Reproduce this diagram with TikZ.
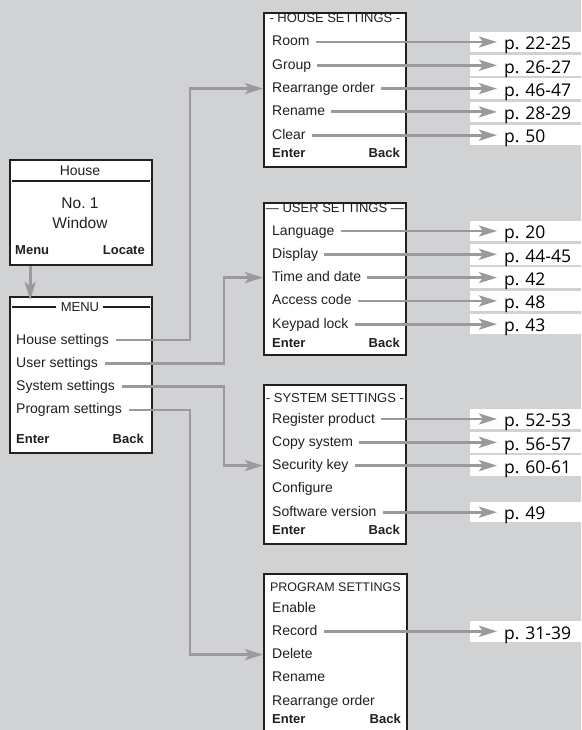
\documentclass[tikz,border=0pt]{standalone}
\usepackage{fontspec}
\setmainfont{Liberation Sans}
\newfontfamily\pagefont{Open Sans}
\usetikzlibrary{positioning}
\usetikzlibrary{arrows.meta}
\frenchspacing

\definecolor{bggray}{HTML}{D1D2D4}
\definecolor{linkgray}{HTML}{9A9A9C}
\definecolor{ink}{HTML}{231F20}

\begin{document}
\begin{tikzpicture}[
        x=1pt, y=-1pt,
        node distance=8.9pt,
        screen/.style={rectangle, draw=ink, line width=1.8pt, fill=white, anchor=north west, minimum width=142pt, inner sep=0pt},
        item/.style={anchor=west, inner sep=0pt, text height=11pt, text depth=3pt, text=ink, font=\fontsize{14}{16}\selectfont},
        next/.style={below=of #1.south west, anchor=north west},
        big/.style={inner sep=0pt, text height=11.5pt, text depth=0pt, text=ink, font=\fontsize{15.5}{18}\selectfont},
        title/.style={inner sep=1pt, text height=9.5pt, text depth=0pt, text=ink, font=\fontsize{13}{15}\selectfont},
        key/.style={inner sep=0pt, text height=9.4pt, text depth=0pt, text=ink, font=\fontsize{13}{15}\selectfont\bfseries},
        page/.style={fill=white, anchor=west, minimum height=20.5pt, inner ysep=0pt, inner xsep=34pt, text width=90pt, align=left, text height=15.5pt, text depth=0pt, font=\pagefont\fontsize{17.5}{20}\selectfont},
        rule/.style={draw=ink, line width=1.1pt},
        link/.style={draw=linkgray, line width=2.8pt, -{Stealth[length=18pt, width=11pt, inset=4pt]}}
    ]
        \useasboundingbox (0,0) rectangle (581,730);
        \fill[bggray] (0,0) rectangle (581,730);

        % start screen
        \node[screen, minimum height=105pt] (homebox) at (9,159) {};
        \node[title, font=\fontsize{14}{16}\selectfont] (hometitle) at (80,171) {House};
        \draw[rule] ([xshift=3pt]homebox.west |- 0,181) -- ([xshift=-3pt]homebox.east |- 0,181);
        \node[big] (homeno) at (80,203) {No. 1};
        \node[big] (homewin) at (80,223) {Window};
        \node[key, anchor=west] (menukey) at (15,250) {Menu};
        \node[key, anchor=east] (locatekey) at (145,250) {Locate};

        % menu
        \node[screen, minimum height=156pt] (menubox) at (9,296) {};
        \node[title] (menutitle) at (80,307) {MENU};
        \draw[rule] ([xshift=3pt]menubox.west |- menutitle) -- ([xshift=-4pt]menutitle.west);
        \draw[rule] ([xshift=3pt]menutitle.east) -- ([xshift=-3pt]menubox.east |- menutitle);
        \node[item] (mhouse) at (16,340) {House settings};
        \node[item, next=mhouse] (muser) {User settings};
        \node[item, next=muser] (msystem) {System settings};
        \node[item, next=msystem] (mprogram) {Program settings};
        \node[key, anchor=west] (menter) at (16,439) {Enter};
        \node[key, anchor=east] (mback) at (144,439) {Back};

        % house settings
        \node[screen, minimum height=154pt] (hbox) at (263,12) {};
        \node[title, below=0pt of hbox.north] (htitle) {- HOUSE SETTINGS -};
        \node[item] (hroom) at (272,42) {Room};
        \node[item, next=hroom] (hgroup) {Group};
        \node[item, next=hgroup] (hrearr) {Rearrange order};
        \node[item, next=hrearr] (hrename) {Rename};
        \node[item, next=hrename] (hclear) {Clear};
        \node[key, anchor=west] (henter) at (272,153) {Enter};
        \node[key, anchor=east] (hback) at (400,153) {Back};

        % user settings
        \node[screen, minimum height=152pt] (ubox) at (263,202) {};
        \node[title, below=0pt of ubox.north] (utitle) {--- USER SETTINGS ---};
        \node[item] (ulang) at (272,231) {Language};
        \node[item, next=ulang] (udisp) {Display};
        \node[item, next=udisp] (utime) {Time and date};
        \node[item, next=utime] (ucode) {Access code};
        \node[item, next=ucode] (ulock) {Keypad lock};
        \node[key, anchor=west] (uenter) at (272,343) {Enter};
        \node[key, anchor=east] (uback) at (400,343) {Back};

        % system settings
        \node[screen, minimum height=159pt] (sbox) at (263,384) {};
        \node[title, below=8pt of sbox.north] (stitle) {- SYSTEM SETTINGS -};
        \node[item] (sreg) at (272,419) {Register product};
        \node[item, next=sreg] (scopy) {Copy system};
        \node[item, next=scopy] (skey) {Security key};
        \node[item, next=skey] (sconf) {Configure};
        \node[item, next=sconf] (ssoft) {Software version};
        \node[key, anchor=west] (senter) at (272,530) {Enter};
        \node[key, anchor=east] (sback) at (400,530) {Back};

        % program settings
        \node[screen, minimum height=170pt, minimum width=143pt] (pbox) at (263,573) {};
        \node[title, below=8pt of pbox.north, font=\fontsize{12.5}{15}\selectfont] (ptitle) {PROGRAM SETTINGS};
        \node[item] (penable) at (272,608) {Enable};
        \node[item, next=penable] (precord) {Record};
        \node[item, next=precord] (pdelete) {Delete};
        \node[item, next=pdelete] (prename) {Rename};
        \node[item, next=prename] (prearr) {Rearrange order};
        \node[key, anchor=west] (penter) at (272,719) {Enter};
        \node[key, anchor=east] (pback) at (401,719) {Back};

        % page references
        \coordinate (pgcol) at (470,0);
        \node[page] (p2225) at (pgcol |- hroom) {p. 22-25};
        \node[page] (p2627) at (pgcol |- hgroup) {p. 26-27};
        \node[page] (p4647) at (pgcol |- hrearr) {p. 46-47};
        \node[page] (p2829) at (pgcol |- hrename) {p. 28-29};
        \node[page] (p50) at (pgcol |- hclear) {p. 50};
        \node[page] (p20) at (pgcol |- ulang) {p. 20};
        \node[page] (p4445) at (pgcol |- udisp) {p. 44-45};
        \node[page] (p42) at (pgcol |- utime) {p. 42};
        \node[page] (p48) at (pgcol |- ucode) {p. 48};
        \node[page] (p43) at (pgcol |- ulock) {p. 43};
        \node[page] (p5253) at (pgcol |- sreg) {p. 52-53};
        \node[page] (p5657) at (pgcol |- scopy) {p. 56-57};
        \node[page] (p6061) at (pgcol |- skey) {p. 60-61};
        \node[page] (p49) at (pgcol |- ssoft) {p. 49};
        \node[page] (p3139) at (pgcol |- precord) {p. 31-39};

        % menu links
        \coordinate (laneA) at (190,0);
        \coordinate (laneB) at (224,0);
        \draw[link] ([xshift=-2pt]menukey |- homebox.south) -- ([xshift=-2pt, yshift=-4pt]menukey |- menubox.north);
        \draw[link] ([xshift=7pt]mhouse.east) -| (laneA |- hrearr) -- (hbox.west |- hrearr);
        \draw[link] ([xshift=7pt]muser.east) -| (laneB |- utime) -- (ubox.west |- utime);
        \draw[link] ([xshift=7pt]msystem.east) -| (laneB |- skey) -- (sbox.west |- skey);
        \draw[link] ([xshift=7pt]mprogram.east) -| (laneA |- pdelete) -- (pbox.west |- pdelete);

        % page links
        \draw[link] ([xshift=6pt]hroom.east) -- ([xshift=27pt]p2225.west);
        \draw[link] ([xshift=6pt]hgroup.east) -- ([xshift=27pt]p2627.west);
        \draw[link] ([xshift=6pt]hrearr.east) -- ([xshift=27pt]p4647.west);
        \draw[link] ([xshift=6pt]hrename.east) -- ([xshift=27pt]p2829.west);
        \draw[link] ([xshift=6pt]hclear.east) -- ([xshift=27pt]p50.west);
        \draw[link] ([xshift=6pt]ulang.east) -- ([xshift=27pt]p20.west);
        \draw[link] ([xshift=6pt]udisp.east) -- ([xshift=27pt]p4445.west);
        \draw[link] ([xshift=6pt]utime.east) -- ([xshift=27pt]p42.west);
        \draw[link] ([xshift=6pt]ucode.east) -- ([xshift=27pt]p48.west);
        \draw[link] ([xshift=6pt]ulock.east) -- ([xshift=27pt]p43.west);
        \draw[link] ([xshift=6pt]sreg.east) -- ([xshift=27pt]p5253.west);
        \draw[link] ([xshift=6pt]scopy.east) -- ([xshift=27pt]p5657.west);
        \draw[link] ([xshift=6pt]skey.east) -- ([xshift=27pt]p6061.west);
        \draw[link] ([xshift=6pt]ssoft.east) -- ([xshift=27pt]p49.west);
        \draw[link] ([xshift=6pt]precord.east) -- ([xshift=27pt]p3139.west);
    \end{tikzpicture}
\end{document}
